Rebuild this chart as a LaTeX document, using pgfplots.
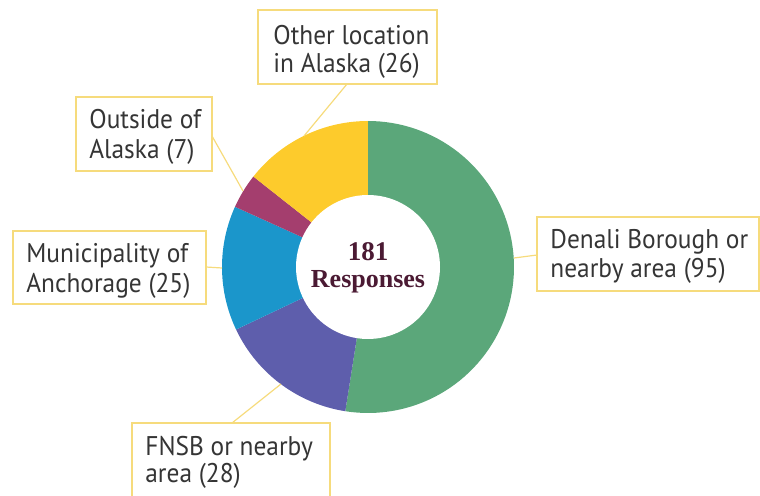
\documentclass[border=0pt]{standalone}
\usepackage{pgfplots}
\usepackage{pgfplotstable}
\pgfplotsset{compat=1.18}
\usepackage{fontspec}
\setmainfont{PT Sans}[FakeStretch=0.94]
\newfontfamily\centerfont{Liberation Serif}
\definecolor{cgreen}{HTML}{5BA77A}
\definecolor{cpurple}{HTML}{5E5EAC}
\definecolor{cblue}{HTML}{1B96CB}
\definecolor{cmaroon}{HTML}{A43E6E}
\definecolor{cyellow}{HTML}{FDCB2C}
\definecolor{boxyellow}{HTML}{F6DB7C}
\definecolor{ctext}{HTML}{353535}
\definecolor{cdark}{HTML}{4B1A33}

\pgfplotstableread{
label value
Denali 95
FNSB 28
Anchorage 25
Outside 7
Other 26
}\piedata

\pgfplotstablegetelem{0}{value}\of\piedata \let\vA\pgfplotsretval
\pgfplotstablegetelem{1}{value}\of\piedata \let\vB\pgfplotsretval
\pgfplotstablegetelem{2}{value}\of\piedata \let\vC\pgfplotsretval
\pgfplotstablegetelem{3}{value}\of\piedata \let\vD\pgfplotsretval
\pgfplotstablegetelem{4}{value}\of\piedata \let\vE\pgfplotsretval
\pgfmathsetmacro{\tot}{\vA+\vB+\vC+\vD+\vE}
\pgfmathsetmacro{\aA}{90}
\pgfmathsetmacro{\aB}{\aA-\vA/\tot*360}
\pgfmathsetmacro{\aC}{\aB-\vB/\tot*360}
\pgfmathsetmacro{\aD}{\aC-\vC/\tot*360}
\pgfmathsetmacro{\aE}{\aD-\vD/\tot*360}
\pgfmathsetmacro{\aF}{\aE-\vE/\tot*360}

\begin{document}
\begin{tikzpicture}
\begin{axis}[
  width=380pt, height=248pt, scale only axis,
  xmin=0, xmax=760, ymin=0, ymax=496, y dir=reverse,
  hide axis, clip=true,
]
% slices
\addplot[fill=cgreen, draw=none, domain=\aB:\aA, samples=80, variable=\t] ({368+146*cos(\t)},{267-146*sin(\t)}) -- (368,267) -- cycle;
\addplot[fill=cpurple, draw=none, domain=\aC:\aB, samples=40, variable=\t] ({368+146*cos(\t)},{267-146*sin(\t)}) -- (368,267) -- cycle;
\addplot[fill=cblue, draw=none, domain=\aD:\aC, samples=40, variable=\t] ({368+146*cos(\t)},{267-146*sin(\t)}) -- (368,267) -- cycle;
\addplot[fill=cmaroon, draw=none, domain=\aE:\aD, samples=20, variable=\t] ({368+146*cos(\t)},{267-146*sin(\t)}) -- (368,267) -- cycle;
\addplot[fill=cyellow, draw=none, domain=\aF:\aE, samples=40, variable=\t] ({368+146*cos(\t)},{267-146*sin(\t)}) -- (368,267) -- cycle;
% hole
\addplot[fill=white, draw=none, domain=0:360, samples=100, variable=\t] ({368+72*cos(\t)},{267-72*sin(\t)}) -- cycle;

% leader lines
\draw[boxyellow, line width=0.6pt] (347,84) -- (304,136);
\draw[boxyellow, line width=0.6pt] (212,136) -- (243,191);
\draw[boxyellow, line width=0.6pt] (206,267) -- (222,268);
\draw[boxyellow, line width=0.6pt] (537,255) -- (514,258);
\draw[boxyellow, line width=0.6pt] (232,423) -- (281,384);

% boxes
\draw[boxyellow, line width=0.7pt, fill=white] (258,10) rectangle (437,84);
\draw[boxyellow, line width=0.7pt, fill=white] (76,97) rectangle (212,171);
\draw[boxyellow, line width=0.7pt, fill=white] (13,231) rectangle (206,304);
\draw[boxyellow, line width=0.7pt, fill=white] (537,217) rectangle (759,291);
\draw[boxyellow, line width=0.7pt, fill=white] (132,423) rectangle (330,520);

% labels
\tikzset{lab/.style={anchor=base west, inner sep=0pt, text=ctext, font=\fontsize{13.5}{16}\selectfont}}
\node[lab] at (273,45) {Other location};
\node[lab] at (273,73) {in Alaska (26)};
\node[lab] at (89,129) {Outside of};
\node[lab] at (89,159) {Alaska (7)};
\node[lab] at (26,263) {Municipality of};
\node[lab] at (26,293) {Anchorage (25)};
\node[lab] at (550,249) {Denali Borough or};
\node[lab] at (550,278) {nearby area (95)};
\node[lab] at (145,455) {FNSB or nearby};
\node[lab] at (145,482) {area (28)};

% centre
\node[anchor=base, inner sep=0pt, text=cdark, font=\centerfont\bfseries\fontsize{13.5}{15}\selectfont] at (368,261) {181};
\node[anchor=base, inner sep=0pt, text=cdark, font=\centerfont\bfseries\fontsize{13}{15}\selectfont] at (368,288) {Responses};
\end{axis}
\pgfresetboundingbox
\useasboundingbox (current axis.south west) rectangle (current axis.north east);
\end{tikzpicture}
\end{document}
